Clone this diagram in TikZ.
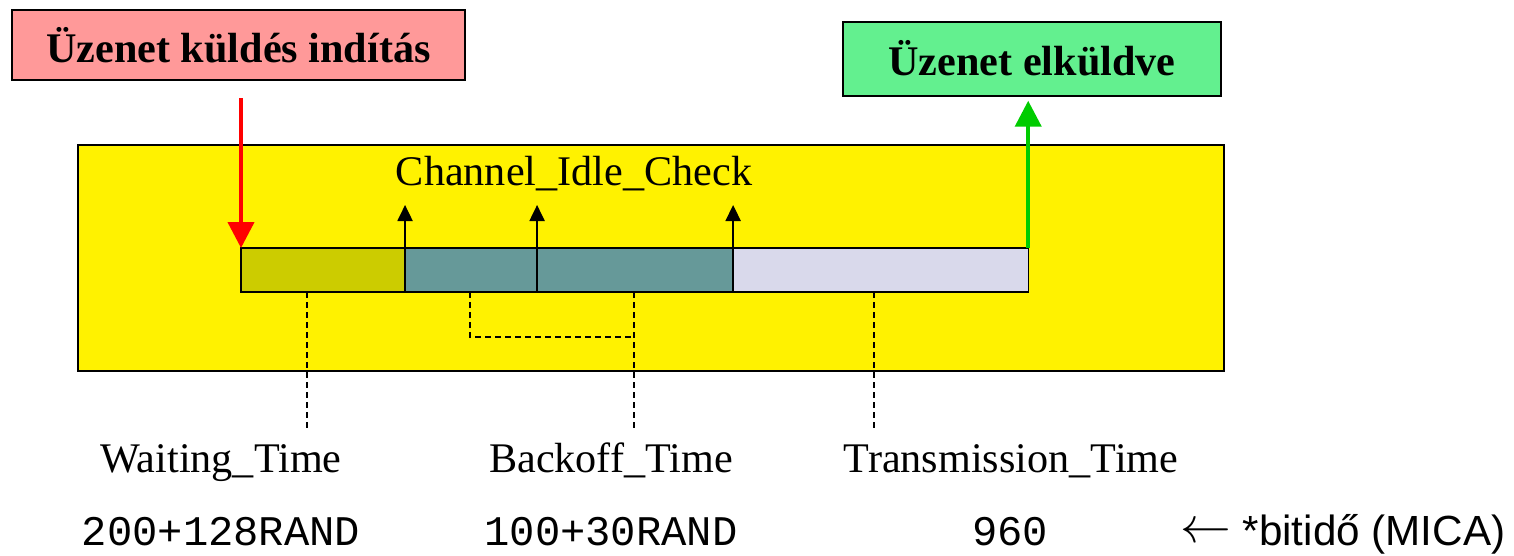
\documentclass[tikz,border=0pt]{standalone}
\usepackage{fontspec}
\setmainfont{Liberation Serif}
\setsansfont{Liberation Sans}
\setmonofont{Liberation Mono}
\usetikzlibrary{arrows.meta,positioning}
\definecolor{startred}{RGB}{255,153,153}
\definecolor{sentgreen}{RGB}{99,240,143}
\definecolor{waitolive}{RGB}{204,204,0}
\definecolor{backteal}{RGB}{102,153,153}
\definecolor{translav}{RGB}{217,217,235}
\definecolor{sendred}{RGB}{255,0,0}
\definecolor{sendgreen}{RGB}{0,204,0}

\begin{document}
\begin{tikzpicture}[x=0.025cm,y=-0.025cm,
  txt/.style={font=\fontsize{30}{36}\selectfont,anchor=base,inner sep=0pt},
  msgbox/.style={draw,line width=1pt,font=\fontsize{30}{36}\selectfont\bfseries,inner sep=0pt},
  seg/.style={draw,line width=1pt,minimum height=1.1cm,inner sep=0pt,outer sep=0pt,anchor=north west},
  chk/.style={line width=1pt,-{Triangle[width=0.38cm,length=0.4cm]}},
  guide/.style={line width=0.8pt,dash pattern=on 0.15cm off 0.1cm}]
  \useasboundingbox (0,0) rectangle (1514,555);

  % message boxes
  \node[msgbox,fill=startred,minimum width=11.325cm,minimum height=1.75cm] (start) at (238.5,45) {};
  \node[txt,font=\fontsize{30}{36}\selectfont\bfseries] (startlbl) at (238.5,62) {Üzenet küldés indítás};
  \node[msgbox,fill=sentgreen,minimum width=9.45cm,minimum height=1.85cm] (sent) at (1032,59) {};
  \node[txt,font=\fontsize{30}{36}\selectfont\bfseries] (sentlbl) at (1032,75) {Üzenet elküldve};

  % channel
  \draw[line width=1pt,fill=yellow] (78,145) rectangle (1224,371);
  \node[txt] (check) at (574,185) {Channel\_Idle\_Check};

  % time bar
  \node[seg,fill=waitolive,minimum width=4.1cm] (wait) at (241,248) {};
  \node[seg,fill=backteal,minimum width=3.3cm] (back1) at (wait.north east) {};
  \node[seg,fill=backteal,minimum width=4.9cm] (back2) at (back1.north east) {};
  \node[seg,fill=translav,minimum width=7.375cm] (trans) at (back2.north east) {};

  % idle checks
  \foreach \s/\n in {wait/1,back1/2,back2/3}{
    \coordinate (tip\n) at ([yshift=1.075cm]\s.north east);
    \draw[chk] (\s.north east) -- (tip\n);
  }

  % send start / send done
  \coordinate (go) at (241,98);
  \draw[sendred,line width=3pt,-{Triangle[width=0.65cm,length=0.65cm]}] (go) -- (wait.north west);
  \draw[sendgreen,line width=3pt,-{Triangle[width=0.65cm,length=0.65cm]},shorten >=0.1cm]
    (trans.north east) -- (trans.north east |- sent.south);

  % guides to the labels
  \coordinate (wt) at (307,430);
  \coordinate (bk) at (470,337);
  \coordinate (bt) at (634,430);
  \coordinate (tt) at (874,430);
  \draw[guide] (wait.south -| wt) -- (wt);
  \draw[guide] (back1.south -| bk) |- (bk -| bt);
  \draw[guide] (back2.south -| bt) -- (bt);
  \draw[guide] (trans.south -| tt) -- (tt);

  % labels
  \node[txt] (waitlbl) at (221,472) {Waiting\_Time};
  \node[txt] (backlbl) at (611,472) {Backoff\_Time};
  \node[txt] (translbl) at (1011,472) {Transmission\_Time};
  \node[txt,font=\fontsize{30}{36}\selectfont\ttfamily] (waitval) at (221,545) {200+128RAND};
  \node[txt,font=\fontsize{30}{36}\selectfont\ttfamily] (backval) at (611,545) {100+30RAND};
  \node[txt,font=\fontsize{30}{36}\selectfont\ttfamily] (transval) at (1010,545) {960};
  \node[txt,anchor=base west,font=\fontsize{30}{36}\selectfont\sffamily] (unit) at (1180,545)
    {\raisebox{0.06cm}{\scalebox{1.45}{$\leftarrow$}} *bitidő (MICA)};
\end{tikzpicture}
\end{document}
